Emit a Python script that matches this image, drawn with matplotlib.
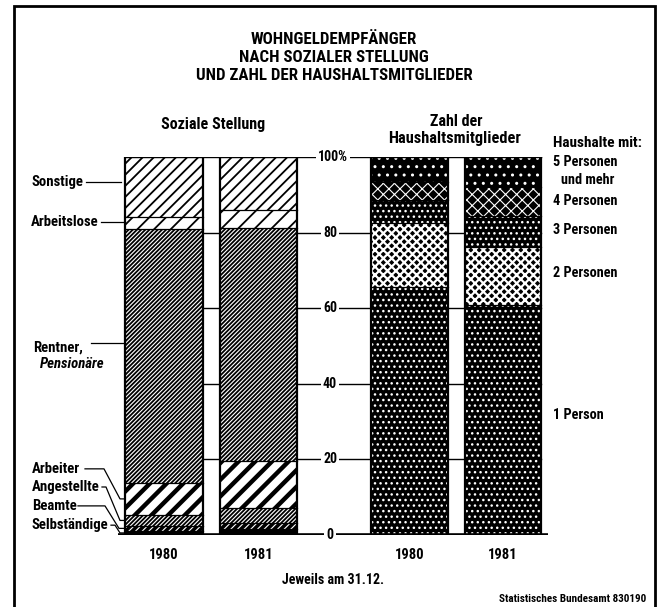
import matplotlib
matplotlib.use('Agg')
import matplotlib.pyplot as plt
from matplotlib import font_manager
from matplotlib.patches import Rectangle
import numpy as np

# pick a narrow font if one is installed
fonts = font_manager.fontManager.ttflist
names = {f.name for f in fonts}
family = 'DejaVu Sans'
stretch = 'normal'
for cand in ['Liberation Sans Narrow', 'Roboto Condensed', 'Noto Sans Condensed',
             'Open Sans Condensed', 'DejaVu Sans Condensed']:
    if cand in names:
        family = cand
        break
else:
    if any(f.name == 'DejaVu Sans' and f.stretch == 'condensed' for f in fonts):
        stretch = 'condensed'
plt.rcParams['font.family'] = [family, 'DejaVu Sans']
plt.rcParams['font.stretch'] = stretch
plt.rcParams['font.weight'] = 'bold'

# Data (percent shares)
years = ['1980', '1981']

# Soziale Stellung, bottom to top
social_labels = ['Selbständige', 'Beamte', 'Angestellte', 'Arbeiter',
                 'Rentner, Pensionäre', 'Arbeitslose', 'Sonstige']
social_1980 = [1.1, 1.3, 2.9, 8.5, 67.1, 3.2, 15.9]
social_1981 = [1.6, 1.6, 4.0, 12.4, 61.6, 4.8, 14.0]

# Zahl der Haushaltsmitglieder, bottom to top
hh_labels = ['1 Person', '2 Personen', '3 Personen', '4 Personen', '5 Personen\nund mehr']
hh_1980 = [65.6, 16.9, 6.1, 4.8, 6.6]
hh_1981 = [60.9, 15.3, 8.2, 7.7, 7.9]

ticks = [0, 20, 40, 60, 80, 100]

W, H = 657, 607
fig = plt.figure(figsize=(W / 100, H / 100), dpi=100)

# axes: x in pixel units, y in percent
ax = fig.add_axes([0, (H - 535) / H, 1, 378 / H])
ax.set_xlim(0, W)
ax.set_ylim(0, 100)
ax.axis('off')

def ftxt(x, y, s, **kw):
    fig.text(x / W, 1 - y / H, s, **kw)

# styles: (facecolor, hatch colour, hatch, hatch linewidth)
social_styles = [
    ('black', 'black', '', 1.0),         # Selbständige
    ('black', 'white', '/////', 0.8),    # Beamte
    ('white', 'black', '////////', 1.3), # Angestellte
    ('white', 'black', '//', 3.2),       # Arbeiter
    ('white', 'black', '////////', 1.3), # Rentner
    ('white', 'black', '//', 1.3),       # Arbeitslose
    ('white', 'black', '///', 1.3),      # Sonstige
]
hh_styles = [
    ('black', 'white', '...', 1.0),      # 1 Person
    ('black', 'white', 'xxxx', 1.6),     # 2 Personen
    ('black', 'white', '...', 1.0),      # 3 Personen
    ('black', 'white', 'xxx', 0.8),      # 4 Personen
    ('black', 'white', '..', 1.0),       # 5 Personen
]

def stacked(xc, width, values, styles):
    bottom = 0
    for v, (fc, hc, hatch, hlw) in zip(values, styles):
        plt.rcParams['hatch.linewidth'] = hlw
        bars = ax.bar(xc, v, width, bottom=bottom, color=fc, edgecolor=hc,
                      linewidth=0, hatch=hatch, zorder=2)
        for b in bars:
            try:
                b.set_hatch_linewidth(hlw)
            except AttributeError:
                pass
        bottom += v
        # separator
        ax.plot([xc - width / 2, xc + width / 2], [bottom, bottom], color='black', lw=0.9, zorder=3)
    ax.bar(xc, bottom, width, fill=False, edgecolor='black', linewidth=1.6, zorder=4)

stacked(164, 78, social_1980, social_styles)
stacked(258.5, 77, social_1981, social_styles)
stacked(409.5, 77, hh_1980, hh_styles)
stacked(503, 76, hh_1981, hh_styles)

# grid lines and scale
for t in ticks[1:]:
    ax.plot([125, 541], [t, t], color='black', lw=1.0, zorder=1)
    lab = '100%' if t == 100 else str(t)
    ax.text(333 if t == 100 else 330, t, lab, ha='center', va='center', fontsize=10,
            bbox=dict(facecolor='white', edgecolor='none', pad=1.5), zorder=1.5)
ax.plot([118, 548], [0, 0], color='black', lw=2.6, zorder=5, solid_capstyle='butt')
ax.text(330, 0, '0', ha='center', va='center', fontsize=10, zorder=6,
        bbox=dict(facecolor='white', edgecolor='none', pad=1.5))

# year labels
for xc, yr in zip([164, 258.5, 409.5, 503], years * 2):
    ax.text(xc, -5.3, yr, ha='center', va='center', fontsize=10.5)

# left labels with leader lines
c80 = np.cumsum([0] + social_1980)
mid = [(c80[i] + c80[i + 1]) / 2 for i in range(len(social_1980))]
fs = 10.6

ax.text(31, 93.4, 'Sonstige', ha='left', va='center', fontsize=fs)
ax.plot([86, 121], [93.4, 93.4], color='black', lw=0.9, clip_on=False)
ax.text(31, 82.8, 'Arbeitslose', ha='left', va='center', fontsize=fs)
ax.plot([101, 125], [82.8, 82.8], color='black', lw=0.9, clip_on=False)
ax.text(33, 49.7, 'Rentner,', ha='left', va='center', fontsize=fs)
ax.text(40, 45.2, 'Pensionäre', ha='left', va='center', fontsize=fs, style='italic')
ax.plot([91, 125], [50.8, 50.8], color='black', lw=0.9, clip_on=False)

ax.text(32, 17.5, 'Arbeiter', ha='left', va='center', fontsize=fs)
ax.plot([85, 104, 120, 125], [17.5, 17.5, mid[3], mid[3]], color='black', lw=0.9, clip_on=False)
ax.text(32, 12.7, 'Angestellte', ha='left', va='center', fontsize=fs)
ax.plot([102, 106, 120, 125], [12.7, 12.7, mid[2], mid[2]], color='black', lw=0.9, clip_on=False)
ax.text(32, 7.7, 'Beamte', ha='left', va='center', fontsize=fs)
ax.plot([78, 105, 119, 125], [7.7, 7.7, mid[1], mid[1]], color='black', lw=0.9, clip_on=False)
ax.text(32, 2.6, 'Selbständige', ha='left', va='center', fontsize=fs)
ax.plot([111, 115, 120, 125], [2.6, 2.6, mid[0], mid[0]], color='black', lw=0.9, clip_on=False)

# right legend
fsr = 10.3
ftxt(553, 143, 'Haushalte mit:', ha='left', va='center', fontsize=11)
ftxt(553, 162, '5 Personen', ha='left', va='center', fontsize=fsr)
ftxt(561, 180, 'und mehr', ha='left', va='center', fontsize=fsr)
ftxt(553, 201, '4 Personen', ha='left', va='center', fontsize=fsr)
ftxt(553, 230, '3 Personen', ha='left', va='center', fontsize=fsr)
ftxt(553, 273, '2 Personen', ha='left', va='center', fontsize=fsr)
ftxt(553, 415, '1 Person', ha='left', va='center', fontsize=fsr)

# titles
ftxt(334, 39, 'WOHNGELDEMPFÄNGER', ha='center', va='center', fontsize=12.2)
ftxt(334, 57, 'NACH SOZIALER STELLUNG', ha='center', va='center', fontsize=12.2)
ftxt(334, 75, 'UND ZAHL DER HAUSHALTSMITGLIEDER', ha='center', va='center', fontsize=12.2)
ftxt(213, 124, 'Soziale Stellung', ha='center', va='center', fontsize=11.5)
ftxt(456, 122, 'Zahl der', ha='center', va='center', fontsize=11.5)
ftxt(455, 139, 'Haushaltsmitglieder', ha='center', va='center', fontsize=11.7)

ftxt(333, 580, 'Jeweils am 31.12.', ha='center', va='center', fontsize=10)
ftxt(646, 599, 'Statistisches Bundesamt 830190', ha='right', va='center', fontsize=8)

# frame
fig.add_artist(Rectangle((14 / W, -0.01), (655 - 14) / W, 1 - 6 / H + 0.01,
                         transform=fig.transFigure, fill=False, edgecolor='black', lw=2))

fig.savefig('out.png', dpi=100)
